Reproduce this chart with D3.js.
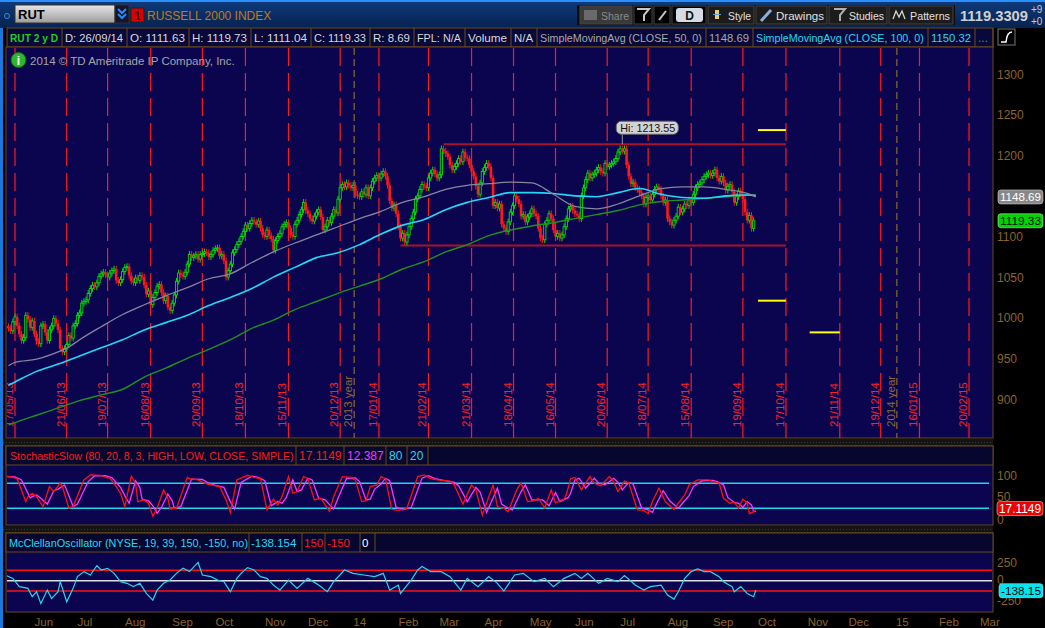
<!DOCTYPE html>
<html>
<head>
<meta charset="utf-8">
<script src="https://cdn.jsdelivr.net/npm/d3@7"></script>
<style>
body{margin:0;background:#000}
svg{display:block;font-family:"Liberation Sans",Arial,sans-serif}
</style>
</head>
<body>
<svg></svg>
<script>
// RUT 2 y D - daily closes, studies and markers

const holidays = ["2013-05-27","2013-07-04","2013-09-02","2013-11-28","2013-12-25","2014-01-01","2014-01-20","2014-02-17","2014-04-18","2014-05-26","2014-07-04","2014-09-01","2014-11-27","2014-12-25","2015-01-01","2015-01-19","2015-02-16"]
const lastDate = "2014-09-26"

const closes = [
    989, 987, 984,
    995, 1001, 990, 980, 972, 976, 1003, 998, 988, 996,
    980, 971, 968, 990, 992, 982, 972, 985, 990, 999,
    993, 985, 962, 958, 962, 967, 978, 975, 990, 993,
    1003, 1006, 1018, 1020, 1022, 1030, 1036, 1040, 1038, 1043,
    1051, 1054, 1056, 1053, 1050, 1055, 1058, 1060, 1046, 1043,
    1047, 1057, 1062, 1063, 1052, 1045, 1043, 1049, 1046, 1052,
    1050, 1040, 1029, 1033, 1016, 1025, 1031, 1039, 1041, 1031,
    1021, 1027, 1013, 1009, 1018, 1028, 1045, 1055, 1053, 1051,
    1056, 1066, 1078, 1074, 1076, 1078, 1072, 1078, 1079, 1081,
    1080, 1075, 1078, 1083, 1085, 1086, 1076, 1078, 1070, 1050,
    1058, 1066, 1080, 1084, 1090, 1094, 1100, 1106, 1114, 1110,
    1116, 1120, 1118, 1115, 1119, 1110, 1102, 1100, 1108, 1101,
    1097, 1083, 1095, 1100, 1104, 1112, 1115, 1117, 1110, 1102,
    1100, 1115, 1120, 1127, 1133, 1142, 1132, 1128, 1122, 1119,
    1125, 1130, 1133, 1124, 1108, 1112, 1120, 1117, 1125, 1133,
    1129, 1146, 1160, 1164, 1161, 1166, 1163, 1160, 1163, 1152,
    1150, 1149, 1155, 1152, 1160, 1150, 1160, 1168, 1172, 1175,
    1172, 1177, 1180, 1174, 1163, 1144, 1135, 1139, 1128, 1112,
    1098, 1104, 1093, 1102, 1112, 1122, 1130, 1146, 1150, 1158,
    1164, 1162, 1160, 1172, 1178, 1182, 1177, 1172, 1176, 1208,
    1205, 1202, 1198, 1188, 1182, 1186, 1190, 1196, 1192, 1204,
    1197, 1196, 1188, 1180, 1174, 1162, 1152, 1166, 1180, 1185,
    1190, 1186, 1172, 1138, 1142, 1135, 1140, 1115, 1110, 1106,
    1118, 1130, 1138, 1150, 1146, 1140, 1125, 1127, 1118, 1124,
    1128, 1134, 1128, 1125, 1110, 1098, 1096, 1115, 1120, 1128,
    1122, 1108, 1100, 1104, 1098, 1102, 1112, 1122, 1134, 1137,
    1132, 1128, 1126, 1122, 1150, 1160, 1170, 1178, 1172, 1176,
    1178, 1182, 1185, 1180, 1178, 1190, 1186, 1188, 1190, 1192,
    1196, 1204, 1208, 1205, 1208, 1188, 1174, 1165, 1167, 1160,
    1158, 1154, 1150, 1140, 1148, 1150, 1145, 1152, 1158, 1161,
    1158, 1150, 1142, 1145, 1122, 1118, 1114, 1120, 1125, 1136,
    1130, 1134, 1140, 1138, 1145, 1142, 1152, 1160, 1164, 1166,
    1170, 1174, 1176, 1178, 1175, 1178, 1182, 1172, 1168, 1174,
    1166, 1157, 1162, 1164, 1155, 1142, 1149, 1156, 1152, 1146,
    1130, 1120, 1126, 1110, 1119.33
]

// moving averages, [bar, value], bar 0 = 17/05/13
const sma50 = [[-3,941],[0,945],[10,949],[20,958],[25,964],[30,973],[40,989],[50,1004],[60,1016],[70,1027],[80,1037],[90,1048],[100,1054],[110,1068],[120,1081],[130,1092],[140,1102],[150,1112],[160,1122],[170,1131],[180,1142],[190,1149],[200,1158],[210,1163],[220,1165],[230,1167],[240,1166],[250,1152],[260,1137],[270,1134],[280,1140],[290,1150],[300,1159],[310,1161],[320,1161],[330,1158],[340,1153],[344,1148.69]]
const sma100 = [[-3,917],[0,921],[10,934],[20,943],[30,953],[40,963],[50,973],[60,985],[70,994],[80,1003],[90,1015],[100,1025],[110,1036],[120,1050],[130,1062],[140,1074],[150,1080],[160,1090],[170,1103],[180,1114],[190,1121],[200,1133],[210,1142],[220,1148],[230,1154],[240,1154],[250,1153],[260,1150],[270,1149],[280,1154],[290,1159],[300,1152],[310,1148],[320,1147],[330,1150],[340,1151],[344,1150.32]]
const sma200 = [[-3,868],[0,871],[10,880],[20,889],[30,898],[40,905],[50,912],[60,927],[70,938],[80,950],[90,961],[100,973],[110,987],[120,997],[130,1010],[140,1020],[150,1030],[160,1039],[170,1048],[180,1060],[190,1069],[200,1081],[210,1090],[220,1101],[230,1108],[240,1113],[250,1117],[260,1122],[270,1127],[280,1132],[290,1139],[300,1143],[310,1145],[320,1147],[330,1149],[340,1151],[344,1151]]

const stochK = [[-4,97],[-1,94],[1,91],[5,36],[6,48],[8,56],[10,48],[13,24],[16,72],[18,60],[21,80],[22,72],[25,20],[27,24],[32,88],[35,100],[40,99],[43,93],[44,93],[47,72],[49,56],[51,24],[54,97],[56,80],[57,36],[60,40],[62,32],[64,1],[66,20],[69,64],[71,44],[72,18],[75,20],[80,94],[81,91],[85,88],[88,80],[91,76],[95,72],[98,40],[100,10],[103,88],[108,99],[111,94],[114,91],[117,16],[120,42],[122,28],[124,48],[127,96],[129,56],[131,60],[134,96],[136,91],[139,40],[142,44],[146,13],[148,48],[152,96],[156,94],[158,88],[161,36],[163,38],[165,72],[168,76],[170,96],[172,91],[175,17],[178,15],[182,20],[187,96],[190,100],[193,91],[196,88],[202,85],[204,76],[208,30],[212,76],[214,64],[217,4],[222,76],[224,24],[227,20],[229,12],[233,64],[235,81],[238,36],[241,38],[243,44],[246,21],[249,64],[251,33],[255,42],[256,52],[258,91],[260,94],[263,64],[267,96],[269,80],[272,74],[276,96],[278,84],[280,60],[283,85],[285,81],[289,16],[292,15],[294,7],[296,36],[299,68],[302,36],[306,17],[308,32],[311,52],[313,76],[317,88],[322,88],[324,84],[327,80],[329,44],[332,32],[334,34],[336,20],[338,42],[340,32],[341,7],[343,12],[344,17.1149]]
const stochD = [[-4,96],[0,95],[3,88],[7,45],[8,48],[10,52],[12,44],[15,30],[18,62],[20,66],[23,76],[24,64],[27,24],[29,30],[34,84],[37,98],[42,98],[45,93],[49,70],[51,50],[53,32],[56,86],[58,70],[59,42],[62,38],[64,26],[66,8],[68,22],[71,54],[73,38],[74,20],[77,24],[82,90],[87,89],[90,80],[93,75],[97,70],[100,36],[102,18],[105,82],[110,97],[113,94],[116,86],[119,26],[122,36],[124,32],[126,46],[129,88],[131,60],[133,64],[136,92],[138,88],[141,44],[144,40],[148,18],[150,44],[154,92],[158,93],[160,84],[163,40],[165,42],[167,66],[170,78],[172,92],[174,86],[177,22],[180,16],[184,22],[189,92],[192,98],[195,91],[199,87],[204,82],[206,74],[210,36],[214,70],[216,58],[219,10],[224,68],[226,30],[229,20],[231,16],[235,60],[237,76],[240,40],[243,40],[245,40],[248,26],[251,58],[253,36],[257,46],[258,56],[260,88],[262,92],[265,68],[269,92],[271,80],[274,76],[278,92],[280,82],[282,64],[285,82],[287,78],[291,20],[294,16],[296,10],[298,32],[301,62],[304,38],[308,20],[310,32],[313,50],[315,72],[319,86],[324,87],[326,84],[329,76],[331,46],[334,34],[336,32],[338,22],[340,36],[342,28],[343,12],[344,12.387]]

const mcclellan = [[-4,73],[-1,33],[2,-87],[6,-112],[8,-233],[10,-160],[12,-330],[15,-137],[17,-258],[20,-160],[21,-15],[24,-306],[27,-112],[29,58],[32,131],[35,82],[38,218],[40,154],[43,179],[46,106],[49,-15],[52,-39],[55,-87],[58,-39],[61,-185],[64,-282],[66,-137],[69,-39],[72,9],[75,106],[78,179],[81,131],[85,266],[87,82],[91,58],[94,9],[97,-15],[100,-160],[103,33],[105,106],[108,189],[111,154],[114,58],[117,33],[120,-64],[123,-137],[127,9],[131,-112],[136,33],[141,-64],[145,-160],[148,-15],[153,154],[157,106],[162,82],[167,58],[171,106],[174,-137],[178,-64],[179,-185],[184,9],[187,154],[189,204],[193,131],[198,131],[202,58],[207,-137],[210,33],[215,-87],[220,58],[224,-39],[227,-151],[232,82],[236,106],[241,-15],[246,33],[250,-87],[255,33],[260,106],[263,33],[266,106],[271,-39],[275,33],[280,-15],[283,73],[288,-64],[292,-137],[295,-87],[300,-64],[303,-209],[306,-267],[308,-160],[311,33],[314,131],[317,169],[320,131],[323,131],[327,58],[329,-15],[333,-87],[334,-160],[337,-87],[340,-185],[343,-233],[344,-138.154]]

const gridDates = ["2013-05-17","2013-06-21","2013-07-19","2013-08-16","2013-09-20","2013-10-18","2013-11-15","2013-12-20","2014-01-17","2014-02-21","2014-03-21","2014-04-18","2014-05-16","2014-06-20","2014-07-18","2014-08-15","2014-09-19","2014-10-17","2014-11-21","2014-12-19","2015-01-16","2015-02-20"]
const gridLabels = ["17/05/13","21/06/13","19/07/13","16/08/13","20/09/13","18/10/13","15/11/13","20/12/13","17/01/14","21/02/14","21/03/14","18/04/14","16/05/14","20/06/14","18/07/14","15/08/14","19/09/14","17/10/14","21/11/14","19/12/14","16/01/15","20/02/15"]
const yearDates = ["2014-01-01","2015-01-01"]
const yearLabels = ["2013 year","2014 year"]
const monthDates = ["2013-06-01","2013-07-01","2013-08-01","2013-09-01","2013-10-01","2013-11-01","2013-12-01","2014-01-01","2014-02-01","2014-03-01","2014-04-01","2014-05-01","2014-06-01","2014-07-01","2014-08-01","2014-09-01","2014-10-01","2014-11-01","2014-12-01","2015-01-01","2015-02-01","2015-03-01"]
const monthLabels = ["Jun","Jul","Aug","Sep","Oct","Nov","Dec","14","Feb","Mar","Apr","May","Jun","Jul","Aug","Sep","Oct","Nov","Dec","15","Feb","Mar"]

// support / resistance and expected-move marks
const levelLines = [["2014-03-04","2014-10-17",1213.55],["2014-02-03","2014-10-17",1089]]
const yellowLines = [["2014-09-30","2014-10-17",1231],["2014-09-30","2014-10-17",1021],["2014-11-03","2014-11-21",982]]
const highDate = "2014-07-01"
const highValue = 1213.55

const priceTicks = [900,950,1000,1050,1100,1200,1250,1300]
const stochTicks = [0,50,100]
const mcTicks = [-250,0,250]

const infoCells = [
    [7,62,"RUT 2 y D","#22cc22"],[62,127,"D: 26/09/14","#d8d8d8"],[127,189,"O: 1111.63","#d8d8d8"],
    [189,251,"H: 1119.73","#d8d8d8"],[251,311,"L: 1111.04","#d8d8d8"],[311,370,"C: 1119.33","#d8d8d8"],
    [370,414,"R: 8.69","#d8d8d8"],[414,465,"FPL: N/A","#d8d8d8"],[465,511,"Volume","#d8d8d8"],
    [511,537,"N/A","#d8d8d8"],[537,706,"SimpleMovingAvg (CLOSE, 50, 0)","#a8a8a8"],[706,753,"1148.69","#a8a8a8"],
    [753,928,"SimpleMovingAvg (CLOSE, 100, 0)","#22d8f5"],[928,975,"1150.32","#22d8f5"],[975,993,"...","#22aa22"]
]
const stochCells = [[7,296,"StochasticSlow (80, 20, 8, 3, HIGH, LOW, CLOSE, SIMPLE)","#ff1a1a"],[296,344,"17.1149","#ff1a1a"],[344,386,"12.387","#ff33ff"],[386,407,"80","#22d8f5"],[407,428,"20","#22d8f5"]]
const mcCells = [[7,249,"McClellanOscillator (NYSE, 19, 39, 150, -150, no)","#22d8f5"],[249,302,"-138.154","#22d8f5"],[302,325,"150","#ff1a1a"],[325,360,"-150","#ff1a1a"],[360,375,"0","#ffffff"]]

const svg = d3.select("svg")
    .attr("width", 1045)
    .attr("height", 628)

const bg = "#0b0550"
const brown = "#6b4a18"
const axisCol = "#8c6428"

// shrink a label's font until it sits inside its cell
const fit = (sel, maxW) => {
    const len = sel.node().getComputedTextLength()
    if (len > maxW) {
        const size = parseFloat(sel.attr("font-size"))
        sel.attr("font-size", (size * maxW / len).toFixed(2))
    }
    return sel
}

// trading calendar
const parse = d3.utcParse("%Y-%m-%d")
const fmt = d3.utcFormat("%Y-%m-%d")
const calendar = []
for (let d = parse("2013-05-10"); d <= parse("2015-03-31"); d = d3.utcDay.offset(d, 1)) {
    const s = fmt(d)
    if (d.getUTCDay() === 0 || d.getUTCDay() === 6 || holidays.includes(s)) continue
    calendar.push(s)
}
const base = calendar.indexOf("2013-05-17")
const barOf = s => {
    const k = d3.bisectLeft(calendar, s)
    return (calendar[k] === s ? k : k - 0.5) - base
}

const x = d3.scaleLinear().domain([0, barOf("2015-02-20")]).range([15, 969])
const yP = d3.scaleLinear().domain([900, 1300]).range([399, 74])
const yS = d3.scaleLinear().domain([0, 100]).range([516.6, 474.9])
const yM = d3.scaleLinear().domain([-150, 150]).range([591, 570.3])

const defs = svg.append("defs")
const tb = defs.append("linearGradient").attr("id", "tb").attr("x1", 0).attr("x2", 0).attr("y1", 0).attr("y2", 1)
tb.append("stop").attr("offset", 0).attr("stop-color", "#0e3c7c")
tb.append("stop").attr("offset", 1).attr("stop-color", "#072250")
const sg = defs.append("linearGradient").attr("id", "sym").attr("x1", 0).attr("x2", 0).attr("y1", 0).attr("y2", 1)
sg.append("stop").attr("offset", 0).attr("stop-color", "#e6e6e6")
sg.append("stop").attr("offset", 1).attr("stop-color", "#9c9c9c")
defs.append("clipPath").attr("id", "pclip").append("rect").attr("x", 7).attr("y", 48).attr("width", 986).attr("height", 390)
defs.append("clipPath").attr("id", "sclip").append("rect").attr("x", 7).attr("y", 466).attr("width", 986).attr("height", 59)
defs.append("clipPath").attr("id", "mclip").append("rect").attr("x", 7).attr("y", 553).attr("width", 986).attr("height", 59)

// ---- top toolbar
svg.append("rect").attr("x", 0).attr("y", 0).attr("width", 1045).attr("height", 28).attr("fill", "url(#tb)")
svg.append("rect").attr("x", 0).attr("y", 0).attr("width", 1045).attr("height", 2).attr("fill", "#2a90ff")
svg.append("circle").attr("cx", 7).attr("cy", 16).attr("r", 2.5).attr("fill", "none").attr("stroke", "#3a8ae0")
svg.append("rect").attr("x", 15).attr("y", 5).attr("width", 100).attr("height", 18).attr("fill", "url(#sym)").attr("stroke", "#333")
svg.append("text").attr("x", 18).attr("y", 19).attr("font-size", 13).attr("font-weight", "bold").attr("fill", "#000").text("RUT")
svg.append("rect").attr("x", 115).attr("y", 5).attr("width", 14).attr("height", 18).attr("fill", "#15152a").attr("stroke", "#333")
svg.append("path").attr("d", "M118,9 L122,13 L126,9 M118,14 L122,18 L126,14").attr("stroke", "#2a8aff").attr("stroke-width", 2).attr("fill", "none")
svg.append("rect").attr("x", 131).attr("y", 8).attr("width", 13).attr("height", 14).attr("fill", "#d80000").attr("stroke", "#222")
svg.append("text").attr("x", 137.5).attr("y", 20).attr("text-anchor", "middle").attr("font-size", 12).attr("fill", "#000").text("1")
svg.append("text").attr("x", 147).attr("y", 20).attr("font-size", 12).attr("fill", "#c07a18").text("RUSSELL 2000 INDEX")

svg.append("rect").attr("x", 577).attr("y", 5).attr("width", 378).attr("height", 20).attr("fill", "#0c0c0c")
const buttons = [[580,632,"Share","#3a3a3a","#8a8a8a",601],[634,652,"","#000","",0],[654,670,"","#000","",0],[672,706,"","#000","",0],[708,754,"Style","#1c1c1c","#e0e0e0",728],[756,827,"Drawings","#1c1c1c","#e0e0e0",776],[829,887,"Studies","#1c1c1c","#e0e0e0",849],[889,953,"Patterns","#1c1c1c","#e0e0e0",910]]
buttons.forEach(b => {
    svg.append("rect").attr("x", b[0]).attr("y", 6).attr("width", b[1] - b[0]).attr("height", 18).attr("fill", b[3]).attr("stroke", "#444")
    if (b[2]) fit(svg.append("text").attr("x", b[5]).attr("y", 20).attr("font-size", 12).attr("fill", b[4]).text(b[2]), b[1] - b[5] - 3)
})
svg.append("rect").attr("x", 584).attr("y", 10).attr("width", 13).attr("height", 10).attr("fill", "#6a6a6a")
svg.append("path").attr("d", "M637,9 L649,9 L644,15 L644,21 M659,20 L666,11").attr("stroke", "#c8c8c8").attr("stroke-width", 2).attr("fill", "none")
svg.append("rect").attr("x", 676).attr("y", 8).attr("width", 27).attr("height", 14).attr("rx", 3).attr("fill", "#d6dce6")
svg.append("text").attr("x", 689.5).attr("y", 20).attr("text-anchor", "middle").attr("font-size", 12).attr("font-weight", "bold").attr("fill", "#111").text("D")
svg.append("rect").attr("x", 715).attr("y", 10).attr("width", 4).attr("height", 9).attr("fill", "#e8d070")
svg.append("path").attr("d", "M713,14.5 L721,14.5").attr("stroke", "#5aa0e0").attr("stroke-width", 1)
svg.append("path").attr("d", "M761,21 L771,10").attr("stroke", "#8ab0e0").attr("stroke-width", 3)
svg.append("path").attr("d", "M834,9 L845,9 L840,15 L840,21").attr("stroke", "#b0b0b0").attr("stroke-width", 2).attr("fill", "none")
svg.append("path").attr("d", "M893,19 L896,11 L899,17 L902,11 L905,19").attr("stroke", "#d8d8d8").attr("stroke-width", 1.3).attr("fill", "none")
fit(svg.append("text").attr("x", 960).attr("y", 21).attr("font-size", 15).attr("font-weight", "bold").attr("fill", "#d0d0d0").text("1119.3309"), 68)
svg.append("text").attr("x", 1031).attr("y", 13).attr("font-size", 10).attr("fill", "#c8c8c8").text("+9")
svg.append("text").attr("x", 1031).attr("y", 25).attr("font-size", 10).attr("fill", "#c8c8c8").text("+0")

// ---- info bar
svg.append("rect").attr("x", 0).attr("y", 28).attr("width", 1045).attr("height", 600).attr("fill", "#000")
svg.append("rect").attr("x", 7).attr("y", 28).attr("width", 986).attr("height", 19).attr("fill", "#08083a").attr("stroke", brown)
infoCells.forEach(c => {
    svg.append("line").attr("x1", c[1]).attr("x2", c[1]).attr("y1", 28).attr("y2", 47).attr("stroke", brown)
    const t = svg.append("text").attr("x", c[0] + 3).attr("y", 42).attr("font-size", 12)
        .attr("font-weight", c[2] === "RUT 2 y D" ? "bold" : null).attr("fill", c[3]).text(c[2])
    fit(t, c[1] - c[0] - 7)
})
svg.append("rect").attr("x", 998).attr("y", 29).attr("width", 17).attr("height", 16).attr("fill", "#000").attr("stroke", "#777")
svg.append("path").attr("d", "M1001,42 L1006,42 Q1007,32 1012,32").attr("stroke", "#fff").attr("stroke-width", 1.5).attr("fill", "none")
svg.append("rect").attr("x", 0).attr("y", 28).attr("width", 3).attr("height", 600).attr("fill", "#1a78dc")

// ---- price panel
svg.append("rect").attr("x", 6).attr("y", 47).attr("width", 987).attr("height", 391).attr("fill", bg).attr("stroke", brown)
const plot = svg.append("g").attr("clip-path", "url(#pclip)")

plot.selectAll("line.grid")
    .data(gridDates)
    .enter()
    .append("line")
    .attr("class", "grid")
    .attr("x1", d => x(barOf(d)))
    .attr("x2", d => x(barOf(d)))
    .attr("y1", 48)
    .attr("y2", 438)
    .attr("stroke", "#ff1a1a")
    .attr("stroke-width", 1.2)
    .attr("stroke-dasharray", "18,7")

plot.selectAll("text.glab")
    .data(gridDates)
    .enter()
    .append("text")
    .attr("class", "glab")
    .attr("transform", d => `translate(${x(barOf(d)) - 2},427) rotate(-90)`)
    .attr("font-size", 11.5)
    .attr("fill", "#ff2020")
    .text((d, i) => gridLabels[i])

plot.selectAll("line.year")
    .data(yearDates)
    .enter()
    .append("line")
    .attr("class", "year")
    .attr("x1", d => x(barOf(d)))
    .attr("x2", d => x(barOf(d)))
    .attr("y1", 48)
    .attr("y2", 438)
    .attr("stroke", "#8a6a30")
    .attr("stroke-width", 1.2)
    .attr("stroke-dasharray", "7,4")

plot.selectAll("text.ylab")
    .data(yearDates)
    .enter()
    .append("text")
    .attr("class", "ylab")
    .attr("transform", d => `translate(${x(barOf(d)) - 2},427) rotate(-90)`)
    .attr("font-size", 11.5)
    .attr("fill", "#8a6a30")
    .text((d, i) => yearLabels[i])

plot.selectAll("line.level")
    .data(levelLines)
    .enter()
    .append("line")
    .attr("class", "level")
    .attr("x1", d => x(barOf(d[0])))
    .attr("x2", d => x(barOf(d[1])))
    .attr("y1", d => yP(d[2]))
    .attr("y2", d => yP(d[2]))
    .attr("stroke", "#a8122c")
    .attr("stroke-width", 2)

// candles
const firstBar = barOf(lastDate) - closes.length + 1
const wick = 4
const bars = closes.map((c, k) => ({b: firstBar + k, o: k ? closes[k - 1] : c, c: c}))
const upCol = "#00e000"
const downCol = "#ff1a1a"

const candles = plot.selectAll("g.bar")
    .data(bars)
    .enter()
    .append("g")
    .attr("class", "bar")

candles.append("line")
    .attr("x1", d => x(d.b))
    .attr("x2", d => x(d.b))
    .attr("y1", d => yP(Math.max(d.o, d.c) + wick))
    .attr("y2", d => yP(Math.min(d.o, d.c) - wick))
    .attr("stroke", d => d.c >= d.o ? upCol : downCol)

candles.append("rect")
    .attr("x", d => x(d.b) - (d.c >= d.o ? 1.1 : 1.3))
    .attr("width", d => d.c >= d.o ? 2.2 : 2.6)
    .attr("y", d => yP(Math.max(d.o, d.c)))
    .attr("height", d => Math.max(1, yP(Math.min(d.o, d.c)) - yP(Math.max(d.o, d.c))))
    .attr("fill", d => d.c >= d.o ? bg : downCol)
    .attr("stroke", d => d.c >= d.o ? upCol : "none")
    .attr("stroke-width", 0.9)

const maLine = d3.line()
    .x(d => x(d[0]))
    .y(d => yP(d[1]))
    .curve(d3.curveMonotoneX)

plot.append("path").datum(sma200).attr("d", maLine).attr("fill", "none").attr("stroke", "#1f901f").attr("stroke-width", 1.4)
plot.append("path").datum(sma100).attr("d", maLine).attr("fill", "none").attr("stroke", "#22d8f5").attr("stroke-width", 1.6)
plot.append("path").datum(sma50).attr("d", maLine).attr("fill", "none").attr("stroke", "#85859c").attr("stroke-width", 1.3)

plot.selectAll("line.yel")
    .data(yellowLines)
    .enter()
    .append("line")
    .attr("class", "yel")
    .attr("x1", d => x(barOf(d[0])))
    .attr("x2", d => x(barOf(d[1])))
    .attr("y1", d => yP(d[2]))
    .attr("y2", d => yP(d[2]))
    .attr("stroke", "#ffff00")
    .attr("stroke-width", 2)

// high bubble
const hx = x(barOf(highDate))
const hy = yP(highValue)
plot.append("line").attr("x1", hx).attr("x2", hx).attr("y1", hy - 10).attr("y2", hy).attr("stroke", "#999")
plot.append("rect").attr("x", hx - 6).attr("y", hy - 23).attr("width", 62).attr("height", 13).attr("rx", 5)
    .attr("fill", "#d2d2d2").attr("stroke", "#666")
fit(plot.append("text").attr("x", hx - 2).attr("y", hy - 12.5).attr("font-size", 11.5).attr("fill", "#111").text("Hi: " + highValue), 55)

svg.append("circle").attr("cx", 18.5).attr("cy", 60).attr("r", 7.5).attr("fill", "#2cb82c").attr("stroke", "#0b6a0b")
svg.append("text").attr("x", 18.5).attr("y", 64.5).attr("text-anchor", "middle").attr("font-size", 12).attr("font-weight", "bold").attr("fill", "#fff").text("i")
svg.append("text").attr("x", 30).attr("y", 65).attr("font-size", 11.5).attr("fill", "#a4a4a4").text("2014 \u00a9 TD Ameritrade IP Company, Inc.")

svg.selectAll("text.ptick")
    .data(priceTicks)
    .enter()
    .append("text")
    .attr("class", "ptick")
    .attr("x", 997)
    .attr("y", d => yP(d) + 4.5)
    .attr("font-size", 12)
    .attr("fill", axisCol)
    .text(d => d)

const valueBox = (y, label, fill, color, x0, w) => {
    svg.append("rect").attr("x", x0).attr("y", y - 7).attr("width", w).attr("height", 14).attr("rx", 3).attr("fill", fill).attr("stroke", "#ccc").attr("stroke-width", 0.6)
    fit(svg.append("text").attr("x", x0 + 2).attr("y", y + 4.5).attr("font-size", 12.5).attr("fill", color).text(label), w - 4)
}
valueBox(yP(1148.69), "1148.69", "#888888", "#fff", 998, 45)
valueBox(yP(1119.33), "1119.33", "#00d400", "#000", 998, 45)

// separators
const separator = (y0, h) => {
    svg.append("rect").attr("x", 3).attr("y", y0).attr("width", 990).attr("height", h).attr("fill", "#141414")
    svg.append("line").attr("x1", 3).attr("x2", 993).attr("y1", y0 + h / 2).attr("y2", y0 + h / 2)
        .attr("stroke", "#3c3c3c").attr("stroke-dasharray", "1,2")
}
separator(439, 7)
separator(526, 7)

// ---- stochastic panel
svg.append("rect").attr("x", 6).attr("y", 446).attr("width", 987).attr("height", 79).attr("fill", bg).attr("stroke", brown)
svg.append("rect").attr("x", 6).attr("y", 446).attr("width", 987).attr("height", 19).attr("fill", "#06062e").attr("stroke", brown)
stochCells.forEach(c => {
    svg.append("line").attr("x1", c[1]).attr("x2", c[1]).attr("y1", 446).attr("y2", 465).attr("stroke", brown)
    fit(svg.append("text").attr("x", c[0] + 3).attr("y", 460).attr("font-size", 12).attr("fill", c[3]).text(c[2]), c[1] - c[0] - 5)
})
const sp = svg.append("g").attr("clip-path", "url(#sclip)")
sp.selectAll("line.band")
    .data([80, 20])
    .enter()
    .append("line")
    .attr("class", "band")
    .attr("x1", 7)
    .attr("x2", 989)
    .attr("y1", d => yS(d))
    .attr("y2", d => yS(d))
    .attr("stroke", "#1ad6ee")
    .attr("stroke-width", 1.5)
const sLine = d3.line().x(d => x(d[0])).y(d => yS(d[1]))
sp.append("path").datum(stochD).attr("d", sLine).attr("fill", "none").attr("stroke", "#ff33ff").attr("stroke-width", 1.3)
sp.append("path").datum(stochK).attr("d", sLine).attr("fill", "none").attr("stroke", "#ff1010").attr("stroke-width", 1.3)
svg.selectAll("text.stick")
    .data(stochTicks)
    .enter()
    .append("text")
    .attr("class", "stick")
    .attr("x", 997)
    .attr("y", d => yS(d) + (d === 0 ? 7.5 : 5.5))
    .attr("font-size", 12)
    .attr("fill", axisCol)
    .text(d => d)
valueBox(yS(17.1149) - 1, "17.1149", "#ee0000", "#fff", 997, 46)

// ---- McClellan panel
svg.append("rect").attr("x", 6).attr("y", 533).attr("width", 987).attr("height", 79).attr("fill", bg).attr("stroke", brown)
svg.append("rect").attr("x", 6).attr("y", 533).attr("width", 987).attr("height", 19).attr("fill", "#06062e").attr("stroke", brown)
mcCells.forEach(c => {
    svg.append("line").attr("x1", c[1]).attr("x2", c[1]).attr("y1", 533).attr("y2", 552).attr("stroke", brown)
    fit(svg.append("text").attr("x", c[0] + 2).attr("y", 547).attr("font-size", 11.5).attr("fill", c[3]).text(c[2]), c[1] - c[0] - 3)
})
const mp = svg.append("g").attr("clip-path", "url(#mclip)")
mp.selectAll("line.mband")
    .data([150, 0, -150])
    .enter()
    .append("line")
    .attr("class", "mband")
    .attr("x1", 7)
    .attr("x2", 992)
    .attr("y1", d => yM(d))
    .attr("y2", d => yM(d))
    .attr("stroke", d => d === 0 ? "#e0e0e0" : "#ff1010")
    .attr("stroke-width", 1.5)
const mLine = d3.line().x(d => x(d[0])).y(d => yM(d[1]))
mp.append("path").datum(mcclellan).attr("d", mLine).attr("fill", "none").attr("stroke", "#2ad4f0").attr("stroke-width", 1.2)
svg.selectAll("text.mtick")
    .data(mcTicks)
    .enter()
    .append("text")
    .attr("class", "mtick")
    .attr("x", 997)
    .attr("y", d => yM(d) + (d < 0 ? 7 : 3.5))
    .attr("font-size", 12)
    .attr("fill", axisCol)
    .text(d => d)
valueBox(yM(-138.154) + 0.5, "-138.15", "#00e4f0", "#000", 999, 44)

// month axis
svg.selectAll("text.month")
    .data(monthDates)
    .enter()
    .append("text")
    .attr("class", "month")
    .attr("x", d => x(d3.bisectLeft(calendar, d) - base) - 2)
    .attr("y", 626)
    .attr("font-size", 11.5)
    .attr("fill", axisCol)
    .text((d, i) => monthLabels[i])
</script>
</body>
</html>
